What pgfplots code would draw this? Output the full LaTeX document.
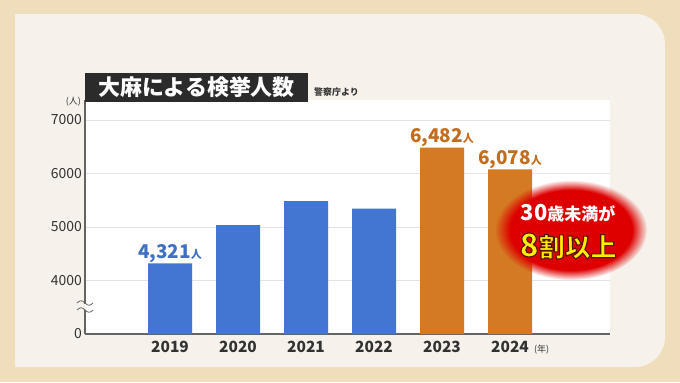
\documentclass[border=0pt]{standalone}
\usepackage{pgfplots}
\pgfplotsset{compat=1.18}
\usepackage{pgfplotstable}
\usepackage{fontspec}
\setmainfont{Noto Sans CJK JP}
\usetikzlibrary{fadings}

\definecolor{outerbg}{RGB}{239,221,187}
\definecolor{panel}{RGB}{246,242,235}
\definecolor{barblue}{RGB}{66,118,210}
\definecolor{barorange}{RGB}{212,122,34}
\definecolor{labblue}{RGB}{64,112,196}
\definecolor{laborange}{RGB}{196,108,28}
\definecolor{titlebox}{RGB}{43,43,43}
\definecolor{gridgray}{RGB}{228,228,228}
\definecolor{axisgray}{RGB}{100,100,100}
\definecolor{tickcol}{RGB}{50,50,50}
\definecolor{badgered}{RGB}{222,0,0}
\definecolor{badgeyellow}{RGB}{255,236,0}

\pgfplotstableread{
x v
0 4321
1 5034
2 5482
3 5342
}\bluedata
\pgfplotstableread{
x v
4 6482
5 6078
}\orangedata

\begin{document}
\begin{tikzpicture}[x=1bp,y=1bp]
\fill[outerbg] (0,0) rectangle (680,382);
\fill[panel] (15,15) -- (15,368) -- (635,368) arc[start angle=90,end angle=0,radius=30] -- (665,45) arc[start angle=0,end angle=-90,radius=30] -- cycle;

\begin{axis}[at={(85bp,48bp)}, anchor=south west, scale only axis,
  width=525bp, height=234bp,
  xmin=-1.25, xmax=6.47, ymin=0, ymax=4374,
  axis background/.style={fill=white},
  axis x line*=bottom, axis y line*=left,
  axis line style={draw=axisgray, line width=1.3pt, -},
  major tick length=0pt,
  xtick={0,1,2,3,4,5}, xticklabels={2019,2020,2021,2022,2023,2024},
  ytick={0,1000,2000,3000,4000}, yticklabels={0,4000,5000,6000,7000},
  ymajorgrids, grid style={gridgray, line width=0.8pt},
  ybar, bar width=44bp, bar shift=0pt,
  /pgf/number format/assume math mode=true,
  xticklabel style={font=\bfseries\fontsize{15.5}{15.5}\selectfont, text=tickcol, inner sep=0pt, anchor=north, yshift=-7bp},
  yticklabel style={font=\fontsize{14}{14}\selectfont, text=tickcol, inner sep=0pt, anchor=east, xshift=-3bp},
  clip=false,
]
\addplot[fill=barblue, draw=none] table[x=x, y expr=\thisrow{v}-3000] {\bluedata};
\addplot[fill=barorange, draw=none] table[x=x, y expr=\thisrow{v}-3000] {\orangedata};

\node[anchor=base, text=labblue, font=\bfseries, inner sep=0pt] at (axis cs:0,1321) [yshift=5bp] {\fontsize{19}{19}\selectfont 4,321\fontsize{11}{11}\selectfont 人};
\node[anchor=base, text=laborange, font=\bfseries, inner sep=0pt] at (axis cs:4,3482) [yshift=5bp] {\fontsize{19}{19}\selectfont 6,482\fontsize{11}{11}\selectfont 人};
\node[anchor=base, text=laborange, font=\bfseries, inner sep=0pt] at (axis cs:5,3078) [yshift=5bp] {\fontsize{19}{19}\selectfont 6,078\fontsize{11}{11}\selectfont 人};
\end{axis}

% axis break
\fill[white] (84.6,72.5) rectangle (87.5,78.5);
\fill[panel] (83,72.5) rectangle (84.6,78.5);
\draw[axisgray, line width=0.8] (77,79) .. controls (80,82) and (82,82) .. (85,79) .. controls (88,76) and (90,76) .. (93,79);
\draw[axisgray, line width=0.8] (77,72) .. controls (80,75) and (82,75) .. (85,72) .. controls (88,69) and (90,69) .. (93,72);

% title
\fill[titlebox] (85,280) rectangle (308,309);
\node[text=white, font=\bfseries, inner sep=0pt] at (196.5,294.5) {\fontsize{22}{22}\selectfont 大麻による検挙人数};
\node[anchor=west, text=tickcol, font=\bfseries, inner sep=0pt] at (314,290) {\fontsize{9}{9}\selectfont 警察庁より};
\node[anchor=east, text=tickcol, inner sep=0pt] at (81,280) {\fontsize{9}{9}\selectfont (人)};
\node[anchor=west, text=tickcol, inner sep=0pt] at (534,32) {\fontsize{9}{9}\selectfont (年)};

% badge
\fill[badgered, path fading=circle with fuzzy edge 20 percent] (571,152) ellipse [x radius=76, y radius=50];
\node[text=white, font=\bfseries, inner sep=0pt] at (568,169) {\fontsize{22}{22}\selectfont 30\fontsize{17}{17}\selectfont 歳未満が};
\node[text=badgeyellow, font=\bfseries, inner sep=0pt] at (568,136) {\special{pdf:literal direct 0.35 0.08 0 RG 1.1 w 2 Tr}\fontsize{32}{32}\selectfont 8\fontsize{26}{26}\selectfont 割以上\special{pdf:literal direct 0 Tr}};
\end{tikzpicture}
\end{document}
